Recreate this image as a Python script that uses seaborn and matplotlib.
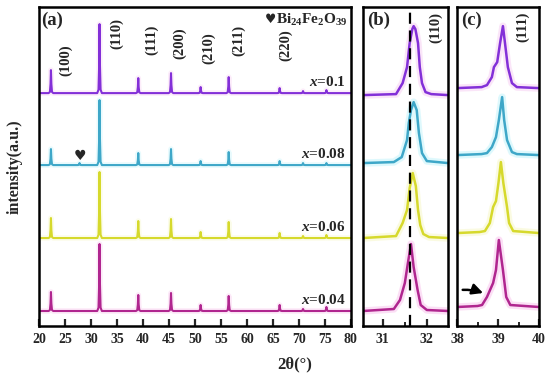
import numpy as np
import pandas as pd
import matplotlib
matplotlib.use("Agg")
import matplotlib.pyplot as plt
import seaborn as sns

# ============================
# DATA
# ============================
samples = ["$x$=0.04", "$x$=0.06", "$x$=0.08", "$x$=0.1"]
line_colors = ["#b0268f", "#d6d92c", "#3ea7c8", "#8330d8"]
glow_colors = ["#f9c0ec", "#f6f7c4", "#bff3fb", "#f7cdf2"]

# (a) full pattern: peak positions and heights above each baseline
peak_pos = [22.3, 27.8, 31.65, 39.1, 45.4, 51.1, 56.5, 66.3, 70.8, 75.3]
hkl_labels = ["(100)", "(110)", "(111)", "(200)", "(210)", "(211)", "(220)"]
hkl_x = [25.2, 35.0, 41.6, 47.0, 52.6, 58.4, 67.5]
hkl_y = [266, 293, 286, 283, 278, 286, 281]
h_004 = [19, 0, 67, 16, 18, 6, 15, 6, 2, 4]
h_006 = [20, 0, 66, 17, 19, 6, 16, 5, 2, 3]
h_008 = [16, 2, 65, 12, 16, 4, 13, 4, 2, 2]
h_010 = [23, 0, 69, 15, 20, 6, 16, 5, 2, 3]
peak_dx = [-0.45, -0.2, -0.08, 0.0, 0.08, 0.2, 0.45]
peak_shape = [0, 0.05, 0.4, 1, 0.4, 0.05, 0]
off_a = [15, 88, 161, 233]

# (b) zoom on (110)
tt_b_004 = [30.55, 31.25, 31.39, 31.50, 31.57, 31.64, 31.70, 31.79, 31.86, 32.0, 32.48]
I_b_004 = [0, 2, 11, 28, 48, 67, 44, 21, 6, 1, 0]
tt_b_006 = [30.55, 31.30, 31.45, 31.55, 31.61, 31.68, 31.75, 31.80, 31.85, 31.92, 32.05, 32.48]
I_b_006 = [0, 2, 15, 28, 50, 65, 52, 28, 13, 4, 1, 0]
tt_b_008 = [30.55, 31.25, 31.43, 31.55, 31.59, 31.64, 31.70, 31.77, 31.82, 31.89, 32.0, 32.48]
I_b_008 = [0, 1, 6, 23, 40, 53, 61, 53, 30, 10, 2, 0]
tt_b_010 = [30.55, 31.30, 31.45, 31.55, 31.61, 31.67, 31.70, 31.74, 31.80, 31.84, 31.89, 31.97, 32.10, 32.48]
I_b_010 = [0, 1, 12, 28, 52, 66, 69, 66, 52, 28, 12, 3, 1, 0]
off_b = [15, 88, 163, 231]
ref_110 = 31.61

# (c) zoom on (111)
tt_c_004 = [38.0, 38.50, 38.61, 38.73, 38.88, 38.95, 39.02, 39.12, 39.20, 39.30, 40.0]
I_c_004 = [0, 1, 2, 10, 24, 37, 67, 37, 10, 2, 0]
tt_c_006 = [38.0, 38.55, 38.68, 38.80, 38.88, 38.95, 39.01, 39.07, 39.13, 39.22, 39.27, 39.37, 40.0]
I_c_006 = [0, 1, 2, 10, 26, 32, 50, 71, 50, 26, 10, 2, 0]
tt_c_008 = [38.0, 38.60, 38.73, 38.85, 38.95, 39.02, 39.10, 39.15, 39.22, 39.34, 39.46, 40.0]
I_c_008 = [0, 1, 2, 8, 18, 35, 58, 35, 15, 3, 1, 0]
tt_c_010 = [38.0, 38.60, 38.73, 38.85, 38.90, 38.98, 39.05, 39.12, 39.17, 39.24, 39.34, 39.46, 40.0]
I_c_010 = [0, 1, 3, 11, 21, 26, 45, 62, 45, 21, 5, 1, 0]
off_c = [19, 93, 171, 238]

# ============================
# STYLE
# ============================
sns.set_theme(style="ticks")
plt.rcParams["font.family"] = ["Liberation Serif", "DejaVu Serif"]
plt.rcParams["font.weight"] = "bold"
plt.rcParams["mathtext.fontset"] = "custom"
plt.rcParams["mathtext.rm"] = "Liberation Serif:bold"
plt.rcParams["mathtext.bf"] = "Liberation Serif:bold"
plt.rcParams["mathtext.it"] = "Liberation Serif:italic:bold"
plt.rcParams["axes.linewidth"] = 1.8
plt.rcParams["axes.edgecolor"] = "black"


def xrd_trace(heights):
    xs, ys = [20.0], [0.0]
    for p, h in zip(peak_pos, heights):
        for dx, s in zip(peak_dx, peak_shape):
            xs.append(p + dx)
            ys.append(h * s)
    xs.append(80.0)
    ys.append(0.0)
    return xs, ys


def draw(ax, xs, ys, off, color, glow, lw, glow_w, glow_a):
    df = pd.DataFrame({"tt": xs, "I": np.array(ys, dtype=float) + off})
    sns.lineplot(data=df, x="tt", y="I", ax=ax, color=glow, lw=lw + glow_w,
                 alpha=glow_a, estimator=None, sort=False)
    sns.lineplot(data=df, x="tt", y="I", ax=ax, color=color, lw=lw,
                 estimator=None, sort=False)


def style_axes(ax, xlim, major, minor):
    ax.set_xlim(*xlim)
    ax.set_ylim(0, 319)
    ax.set_yticks([])
    ax.set_xticks(major)
    ax.set_xticks(minor, minor=True)
    ax.tick_params(axis="x", direction="in", length=5, width=1.6,
                   labelsize=10, pad=5, top=False)
    ax.tick_params(axis="x", which="minor", direction="in", length=3, width=1.4)
    ax.set_xlabel("")
    ax.set_ylabel("")
    for lbl in ax.get_xticklabels():
        lbl.set_fontweight("bold")


fig = plt.figure(figsize=(5.5, 3.76), dpi=100)
ax_a = fig.add_axes([0.0709, 0.133, 0.567, 0.848])
ax_b = fig.add_axes([0.660, 0.133, 0.1545, 0.848])
ax_c = fig.add_axes([0.831, 0.133, 0.149, 0.848])

# ---- (a)
heights = [h_004, h_006, h_008, h_010]
for i in range(4):
    xs, ys = xrd_trace(heights[i])
    draw(ax_a, xs, ys, off_a[i], line_colors[i], glow_colors[i], 1.5, 2.5, 0.35)
style_axes(ax_a, (20, 80), list(range(20, 81, 5)), [])
for lab, x, y in zip(hkl_labels, hkl_x, hkl_y):
    ax_a.text(x, y, lab, rotation=90, ha="center", va="center",
              fontsize=10.5, fontweight="bold")
label_y_a = [26, 99, 172, 244]
for i in range(4):
    ax_a.text(79.0, label_y_a[i], samples[i], ha="right", va="center",
              fontsize=11, fontweight="bold")
t = ax_a.text(79.4, 306, "Bi$_{24}$Fe$_{2}$O$_{39}$", ha="right", va="center",
              fontsize=11)
ax_a.annotate("\u2665", xy=(0, 0.55), xycoords=t, ha="right", va="center",
              fontsize=9, family=["DejaVu Sans"])
ax_a.text(27.9, 170, "\u2665", ha="center", va="center", fontsize=10,
          family=["DejaVu Sans"])
ax_a.text(0.008, 0.985, "(a)", transform=ax_a.transAxes, ha="left", va="top",
          fontsize=13.5, fontweight="bold")

# ---- (b)
tt_b = [tt_b_004, tt_b_006, tt_b_008, tt_b_010]
I_b = [I_b_004, I_b_006, I_b_008, I_b_010]
for i in range(4):
    draw(ax_b, tt_b[i], I_b[i], off_b[i], line_colors[i], glow_colors[i], 1.8, 3.5, 0.5)
ax_b.axvline(ref_110, color="black", lw=1.6, ls=(0, (5, 3)))
style_axes(ax_b, (30.55, 32.48), [31, 32], [31.5])
ax_b.text(32.21, 299, "(110)", rotation=90, ha="center", va="center",
          fontsize=10.5, fontweight="bold")
ax_b.text(0.05, 0.985, "(b)", transform=ax_b.transAxes, ha="left", va="top",
          fontsize=13.5, fontweight="bold")

# ---- (c)
tt_c = [tt_c_004, tt_c_006, tt_c_008, tt_c_010]
I_c = [I_c_004, I_c_006, I_c_008, I_c_010]
for i in range(4):
    draw(ax_c, tt_c[i], I_c[i], off_c[i], line_colors[i], glow_colors[i], 1.8, 3.5, 0.5)
style_axes(ax_c, (38, 40), [38, 39, 40], [38.5, 39.5])
ax_c.text(39.59, 299, "(111)", rotation=90, ha="center", va="center",
          fontsize=10.5, fontweight="bold")
ax_c.text(0.05, 0.985, "(c)", transform=ax_c.transAxes, ha="left", va="top",
          fontsize=13.5, fontweight="bold")
ax_c.annotate("", xy=(38.70, 32), xytext=(38.07, 36),
              arrowprops=dict(arrowstyle="-|>", color="black", lw=1.8,
                              mutation_scale=16,
                              connectionstyle="arc3,rad=-0.12"))

fig.text(0.027, 0.558, "intensity(a.u.)", rotation=90, ha="center",
         va="center", fontsize=11.5, fontweight="bold")
fig.text(0.536, 0.032, "2\u03b8(\u00b0)", ha="center", va="center",
         fontsize=12, fontweight="bold")

fig.savefig("out.png", dpi=100)
